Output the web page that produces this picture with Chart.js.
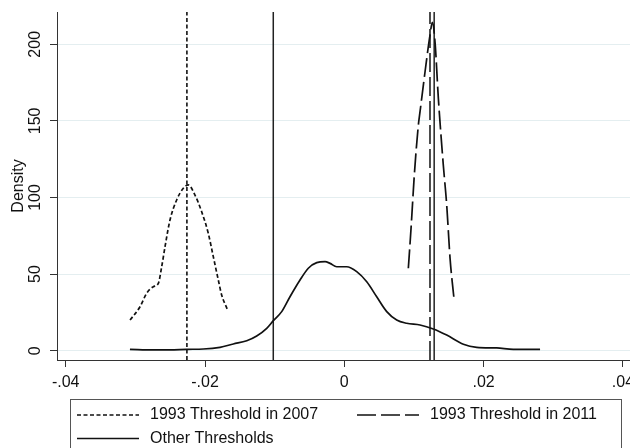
<!DOCTYPE html>
<html>
<head>
<meta charset="utf-8">
<script src="https://cdn.jsdelivr.net/npm/chart.js@4.4.1/dist/chart.umd.min.js"></script>
<style>
  html, body { margin: 0; padding: 0; background: #fff; overflow: hidden; }
  #wrap { width: 630px; height: 448px; overflow: hidden; }
</style>
</head>
<body>
<div id="wrap"><canvas id="myChart" width="650" height="472"></canvas></div>
<script>
// Series names (legend order)
var seriesNames = ['1993 Threshold in 2007', '1993 Threshold in 2011', 'Other Thresholds'];

// Density curve for the 1993 threshold in 2007
var x2007 = [-0.03076, -0.02933, -0.02837, -0.02742, -0.02670, -0.02622, -0.02574, -0.02503,
             -0.02407, -0.02312, -0.02240, -0.02144, -0.02048, -0.01953, -0.01881, -0.01809,
             -0.01761, -0.01680];
var y2007 = [20.0, 28.7, 37.5, 41.8, 44.0, 54.8, 67.9, 85.3,
             98.4, 106.0, 108.2, 101.6, 90.7, 76.6, 61.4, 46.1,
             36.4, 27.0];

// Density curve for the 1993 threshold in 2011
var x2011 = [0.00919, 0.00958, 0.01005, 0.01063, 0.01087, 0.01159, 0.01230, 0.01264,
             0.01302, 0.01350, 0.01421, 0.01470, 0.01518, 0.01579];
var y2011 = [53.8, 79.9, 114.7, 147.3, 156.0, 182.1, 206.0, 214.4,
             201.7, 164.7, 121.2, 95.1, 60.3, 32.0];

// Density curve for all other thresholds
var xOther = [-0.03078, -0.02742, -0.02503, -0.02263, -0.02024, -0.01785, -0.01594, -0.01401,
              -0.01258, -0.01114, -0.01019, -0.00899, -0.00780, -0.00636, -0.00517, -0.00396,
              -0.00277, -0.00205, -0.00109, 0.00034, 0.00178, 0.00322, 0.00465, 0.00609,
              0.00752, 0.00896, 0.01087, 0.01278, 0.01470, 0.01709, 0.01901, 0.02188,
              0.02426, 0.02810];
var yOther = [0.9, 0.5, 0.5, 0.9, 1.1, 2.2, 4.4, 6.5,
              9.6, 14.6, 19.6, 25.5, 35.2, 46.1, 53.8, 57.5,
              58.1, 57.0, 54.8, 54.8, 51.6, 45.0, 35.2, 25.5,
              20.0, 17.9, 16.8, 14.2, 10.2, 4.2, 2.2, 1.8,
              0.9, 0.9];

// Vertical reference lines (x positions)
var vLine2007 = -0.0226;
var vLine2011 = 0.0123;
var vLinesOther = [-0.0102, 0.0129];

// Axis ticks
var xTicks = [-0.04, -0.02, 0, 0.02, 0.04];
var xTickLabels = ['-.04', '-.02', '0', '.02', '.04'];
var yTicks = [0, 50, 100, 150, 200];

// Axis ranges
var X_MIN = -0.04125, X_MAX = 0.04245;
var Y_MIN = -6.07, Y_MAX = 221.1;

var FONT = '"Liberation Sans", Arial, Helvetica, sans-serif';
var INK = '#111';
var DOTTED = [4, 2.5];
var LONGDASH = [19, 5];

function toPoints(xs, ys) {
    return xs.map(function(x, i) { return {x: x, y: ys[i]}; });
}

function vertical(v) {
    return [{x: v, y: Y_MIN}, {x: v, y: Y_MAX}];
}

// Boxed two-column legend, like the Stata one
const boxLegend = {
    id: 'boxLegend',
    afterDraw(chart) {
        const ctx = chart.ctx;
        const items = chart.data.datasets.filter(function(d) { return d.inLegend; });
        ctx.save();
        ctx.strokeStyle = '#555';
        ctx.lineWidth = 1;
        ctx.strokeRect(70.5, 399.5, 551, 60);
        ctx.font = '16px ' + FONT;
        ctx.fillStyle = INK;
        ctx.textBaseline = 'middle';
        items.forEach(function(d, i) {
            const x = 77 + (i % 2) * 280;
            const y = 415 + Math.floor(i / 2) * 23.5;
            ctx.beginPath();
            ctx.setLineDash(d.borderDash || []);
            ctx.strokeStyle = d.borderColor;
            ctx.lineWidth = d.borderWidth;
            ctx.moveTo(x, y);
            ctx.lineTo(x + 62, y);
            ctx.stroke();
            ctx.setLineDash([]);
            ctx.fillText(d.label, x + 73, y);
        });
        ctx.restore();
    }
};

var ctx = document.getElementById('myChart').getContext('2d');

var myChart = new Chart(ctx, {
    type: 'scatter',
    data: {
        datasets: [
            {
                label: seriesNames[0],
                inLegend: true,
                data: toPoints(x2007, y2007),
                showLine: true,
                borderColor: INK,
                borderWidth: 1.7,
                borderDash: DOTTED,
                pointRadius: 0,
                cubicInterpolationMode: 'monotone'
            },
            {
                label: seriesNames[1],
                inLegend: true,
                data: toPoints(x2011, y2011),
                showLine: true,
                borderColor: INK,
                borderWidth: 1.7,
                borderDash: LONGDASH,
                pointRadius: 0,
                cubicInterpolationMode: 'monotone'
            },
            {
                label: seriesNames[2],
                inLegend: true,
                data: toPoints(xOther, yOther),
                showLine: true,
                borderColor: INK,
                borderWidth: 1.7,
                pointRadius: 0,
                cubicInterpolationMode: 'monotone'
            },
            {
                label: 'line 2007',
                data: vertical(vLine2007),
                showLine: true,
                borderColor: INK,
                borderWidth: 1.6,
                borderDash: DOTTED,
                pointRadius: 0
            },
            {
                label: 'line 2011',
                data: vertical(vLine2011),
                showLine: true,
                borderColor: '#222',
                borderWidth: 1.6,
                borderDash: LONGDASH,
                pointRadius: 0
            },
            {
                label: 'line other a',
                data: vertical(vLinesOther[0]),
                showLine: true,
                borderColor: '#222',
                borderWidth: 1.5,
                pointRadius: 0
            },
            {
                label: 'line other b',
                data: vertical(vLinesOther[1]),
                showLine: true,
                borderColor: '#222',
                borderWidth: 1.5,
                pointRadius: 0
            }
        ]
    },
    options: {
        responsive: false,
        devicePixelRatio: 1,
        animation: false,
        layout: {
            padding: {left: 0, top: 12, right: 10, bottom: 82}
        },
        scales: {
            x: {
                type: 'linear',
                min: X_MIN,
                max: X_MAX,
                afterBuildTicks: function(s) {
                    s.ticks = xTicks.map(function(v) { return {value: v}; });
                },
                afterFit: function(s) {
                    s.height = 30;
                    s.paddingLeft = 0;
                    s.paddingRight = 0;
                },
                ticks: {
                    callback: function(v) { return xTickLabels[xTicks.indexOf(v)]; },
                    color: INK,
                    font: {size: 16, family: FONT},
                    padding: 6,
                    maxRotation: 0,
                    autoSkip: false
                },
                grid: {
                    drawOnChartArea: false,
                    tickLength: 7,
                    tickColor: '#333'
                },
                border: {color: '#333', width: 1}
            },
            y: {
                min: Y_MIN,
                max: Y_MAX,
                afterBuildTicks: function(s) {
                    s.ticks = yTicks.map(function(v) { return {value: v}; });
                },
                afterFit: function(s) {
                    s.width = 57;
                    s.paddingTop = 0;
                    s.paddingBottom = 0;
                },
                ticks: {
                    minRotation: 90,
                    maxRotation: 90,
                    crossAlign: 'center',
                    padding: 1,
                    color: INK,
                    font: {size: 16, family: FONT}
                },
                grid: {
                    color: '#e4eef0',
                    tickColor: '#333',
                    tickLength: 7
                },
                border: {color: '#333', width: 1},
                title: {
                    display: true,
                    text: 'Density',
                    color: INK,
                    font: {size: 16, family: FONT},
                    padding: {top: 9}
                }
            }
        },
        plugins: {
            legend: {display: false},
            tooltip: {enabled: false}
        }
    },
    plugins: [boxLegend]
});
</script>
</body>
</html>
